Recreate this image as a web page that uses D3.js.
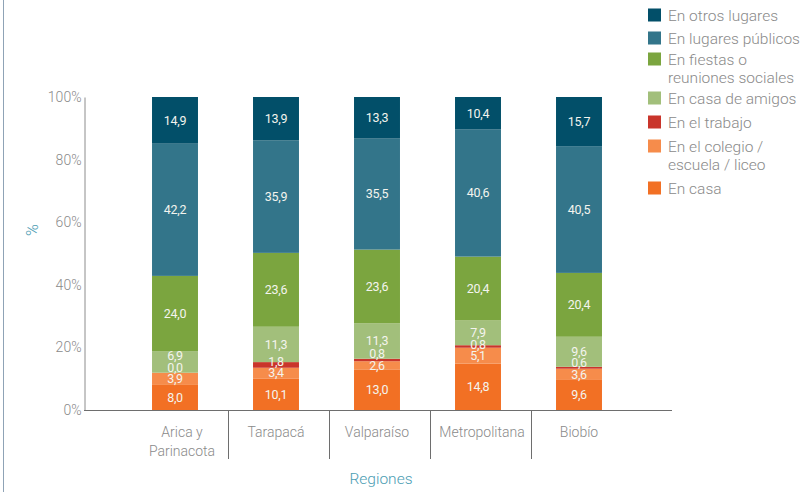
<!DOCTYPE html>
<html lang="es">
  <head>
    <meta charset="utf-8">
    <title>Lugares por región</title>
    <style>
      body { margin: 0; background: #fff; }
      svg { display: block; font-family: Roboto, "Open Sans", sans-serif; }
    </style>
  </head>
  <body>
    <script src="https://d3js.org/d3.v7.min.js"></script>
    <script>
    // data (bottom to top of each bar)
    var regiones = ["Arica y\nParinacota", "Tarapacá", "Valparaíso", "Metropolitana", "Biobío"];
    var series = ["En casa", "En el colegio /\nescuela / liceo", "En el trabajo",
                  "En casa de amigos", "En fiestas o\nreuniones sociales",
                  "En lugares públicos", "En otros lugares"];
    var enCasa     = [8.0, 10.1, 13.0, 14.8, 9.6];
    var enColegio  = [3.9, 3.4, 2.6, 5.1, 3.6];
    var enTrabajo  = [0.0, 1.8, 0.8, 0.8, 0.6];
    var casaAmigos = [6.9, 11.3, 11.3, 7.9, 9.6];
    var fiestas    = [24.0, 23.6, 23.6, 20.4, 20.4];
    var publicos   = [42.2, 35.9, 35.5, 40.6, 40.5];
    var otros      = [14.9, 13.9, 13.3, 10.4, 15.7];
    var yTicks = [0, 0.2, 0.4, 0.6, 0.8, 1];

    var colors = ["#f27024", "#f68c4b", "#c9352b", "#a2bf7b", "#7ba53f", "#33758a", "#024f69"];
    var values = [enCasa, enColegio, enTrabajo, casaAmigos, fiestas, publicos, otros];

    var W = 811, H = 492;
    var svg = d3.select("body").append("svg")
        .attr("width", W)
        .attr("height", H);

    // left border line
    svg.append("line")
        .attr("x1", 3.5).attr("x2", 3.5)
        .attr("y1", 0).attr("y2", H)
        .attr("stroke", "#8fa3b6").attr("stroke-width", 1);

    var x = d3.scaleBand()
        .domain(d3.range(regiones.length))
        .range([124.5, 629.5])
        .paddingInner(0.545)
        .paddingOuter(0.2725);
    var y = d3.scaleLinear().domain([0, 1]).range([410, 97]);

    // build stacked rows as shares of the bar total
    var rows = regiones.map(function(r, i) {
        var total = d3.sum(values, function(s) { return s[i]; });
        var row = { i: i };
        series.forEach(function(s, k) { row[k] = values[k][i] / total; });
        return row;
    });
    var stack = d3.stack().keys(d3.range(series.length));
    var layers = stack(rows);

    var g = svg.selectAll("g.layer")
        .data(layers)
        .enter().append("g")
        .attr("class", "layer")
        .attr("fill", function(d, k) { return colors[k]; });

    g.selectAll("rect")
        .data(function(d) { return d; })
        .enter().append("rect")
        .attr("x", function(d) { return x(d.data.i); })
        .attr("width", x.bandwidth())
        .attr("y", function(d) { return y(d[1]); })
        .attr("height", function(d) { return y(d[0]) - y(d[1]); });

    // value labels, pushed up when thin segments crowd them
    var gap = 11.5;
    regiones.forEach(function(r, i) {
        var prev = Infinity;
        layers.forEach(function(layer, k) {
            var d = layer[i];
            var ly = Math.min((y(d[0]) + y(d[1])) / 2, prev - gap);
            prev = ly;
            svg.append("text")
                .attr("x", x(i) + x.bandwidth() / 2)
                .attr("y", ly)
                .attr("dy", "0.35em")
                .attr("text-anchor", "middle")
                .attr("fill", "#f4f4ee")
                .attr("font-size", 12.5)
                .attr("letter-spacing", "-0.3")
                .text(values[k][i].toFixed(1).replace(".", ","));
        });
    });

    // y axis
    var yAxis = svg.append("g")
        .attr("transform", "translate(84.5,0)")
        .call(d3.axisLeft(y).tickValues(yTicks).tickSize(0).tickPadding(3)
            .tickFormat(function(d) { return Math.round(d * 100) + "%"; }));
    yAxis.select(".domain").attr("stroke", "#8c8c8c");
    yAxis.selectAll("text")
        .attr("fill", "#8a8a8a")
        .attr("font-size", 14)
        .attr("font-weight", 300)
        .attr("font-family", "Roboto, sans-serif");

    // x axis line and separators
    svg.append("line")
        .attr("x1", 84).attr("x2", 672)
        .attr("y1", 410.5).attr("y2", 410.5)
        .attr("stroke", "#6e6e6e");
    svg.selectAll("line.sep")
        .data(d3.range(1, regiones.length))
        .enter().append("line")
        .attr("class", "sep")
        .attr("x1", function(i) { return Math.round(x(i) - x.step() * 0.2725) + 2.5; })
        .attr("x2", function(i) { return Math.round(x(i) - x.step() * 0.2725) + 2.5; })
        .attr("y1", 410).attr("y2", 459)
        .attr("stroke", "#6e6e6e");

    var xl = svg.selectAll("text.xlab")
        .data(regiones)
        .enter().append("text")
        .attr("class", "xlab")
        .attr("text-anchor", "middle")
        .attr("fill", "#8a8a8a")
        .attr("font-size", 14)
        .attr("font-weight", 300);
    xl.each(function(d, i) {
        var t = d3.select(this);
        var cx = x(i) + x.bandwidth() / 2 + (i === 0 ? 7 : i === 3 ? 4 : 0);
        d.split("\n").forEach(function(line, j) {
            t.append("tspan").attr("x", cx).attr("y", 437 + j * 19).text(line);
        });
    });

    // axis titles
    svg.append("text")
        .attr("transform", "translate(38,230) rotate(-90)")
        .attr("text-anchor", "middle")
        .attr("fill", "#4b9db3")
        .attr("font-size", 16)
        .attr("font-weight", 300)
        .text("%");
    svg.append("text")
        .attr("x", 381).attr("y", 484)
        .attr("text-anchor", "middle")
        .attr("fill", "#4b9db3")
        .attr("font-size", 15.5)
        .attr("font-weight", 300)
        .text("Regiones");

    // legend, top to bottom (centre of the first text line)
    var legendY = [15, 38, 59, 98, 122, 146, 188];
    var order = d3.range(series.length).reverse();
    var leg = svg.selectAll("g.leg")
        .data(order)
        .enter().append("g")
        .attr("class", "leg")
        .attr("transform", function(k, j) { return "translate(648," + legendY[j] + ")"; });
    leg.append("rect")
        .attr("y", -6.5)
        .attr("width", 13).attr("height", 13)
        .attr("fill", function(k) { return colors[k]; });
    leg.append("text")
        .attr("fill", "#8a8a8a")
        .attr("font-size", 15.5)
        .attr("font-weight", 300)
        .each(function(k) {
            var t = d3.select(this);
            series[k].split("\n").forEach(function(line, j) {
                t.append("tspan").attr("x", 20).attr("y", 5.5 + j * 18).text(line);
            });
        });
    </script>
  </body>
</html>
